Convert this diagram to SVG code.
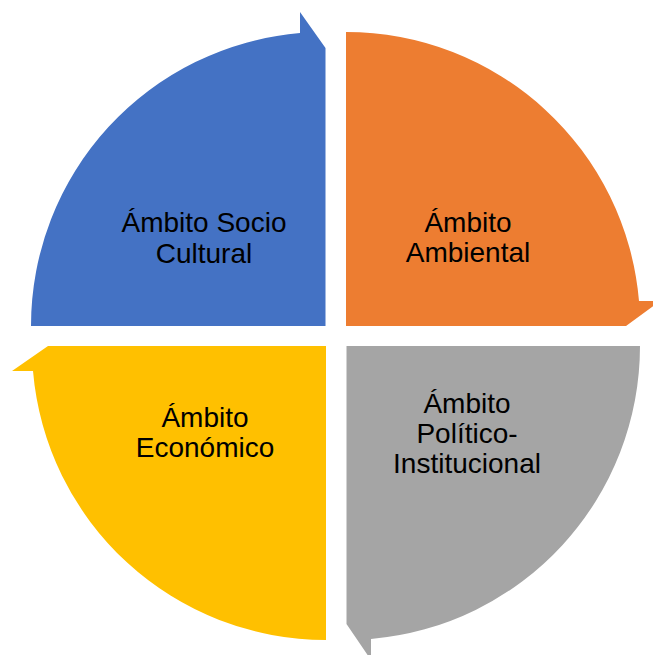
<svg xmlns="http://www.w3.org/2000/svg" width="653" height="655" viewBox="0 0 653 655">
<style>
.lbl{font-family:"Liberation Sans",Arial,sans-serif;font-size:28px;fill:#000;text-anchor:middle}
</style>
<rect width="653" height="655" fill="#fff"/>
<g id="socio-cultural">
<path d="M31 326 A294 294 0 0 1 300 33 L300 12 L325.5 48 L325.5 326 Z" fill="#4472C4"/>
<text class="lbl" x="204" y="232">Ámbito Socio</text>
<text class="lbl" x="204" y="263">Cultural</text>
</g>
<g id="ambiental">
<path d="M346 32 A294 294 0 0 1 639 301 L660 301 L626 326 L346 326 Z" fill="#ED7D31"/>
<text class="lbl" x="468" y="232">Ámbito</text>
<text class="lbl" x="468" y="262">Ambiental</text>
</g>
<g id="politico-institucional">
<path d="M640 346 A294 294 0 0 1 371 639 L371 660 L346.5 624 L346.5 346 Z" fill="#A5A5A5"/>
<text class="lbl" x="467" y="413">Ámbito</text>
<text class="lbl" x="467" y="443">Político-</text>
<text class="lbl" x="467" y="473">Institucional</text>
</g>
<g id="economico">
<path d="M326 640 A294 294 0 0 1 33 371 L12 371 L48 346 L326 346 Z" fill="#FFC000"/>
<text class="lbl" x="205" y="427">Ámbito</text>
<text class="lbl" x="205" y="457">Económico</text>
</g>
<g id="connectors"></g>
</svg>
